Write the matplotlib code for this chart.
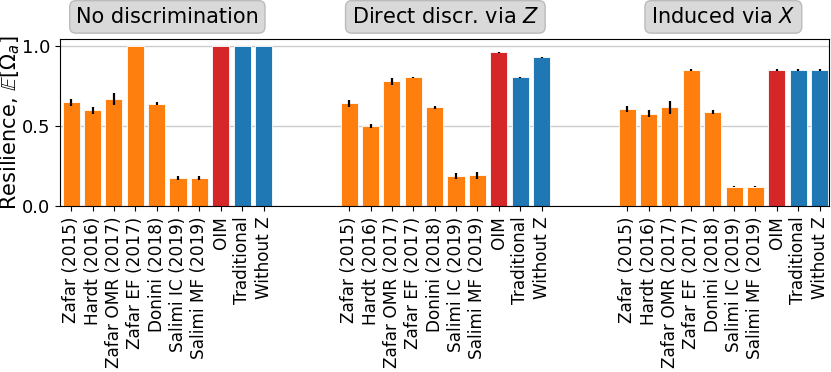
import numpy as np
import matplotlib
matplotlib.use('Agg')
import matplotlib.pyplot as plt

methods = ['Zafar (2015)', 'Hardt (2016)', 'Zafar OMR (2017)', 'Zafar EF (2017)',
           'Donini (2018)', 'Salimi IC (2019)', 'Salimi MF (2019)', 'OIM',
           'Traditional', 'Without Z']
scenarios = ['No discrimination', 'Direct discr. via $Z$', 'Induced via $X$']

# mean resilience per scenario
no_discr = [0.65, 0.60, 0.67, 1.0, 0.64, 0.177, 0.177, 1.0, 1.0, 1.0]
direct = [0.644, 0.50, 0.78, 0.806, 0.619, 0.19, 0.193, 0.9625, 0.806, 0.931]
induced = [0.608, 0.579, 0.619, 0.852, 0.587, 0.123, 0.123, 0.852, 0.852, 0.852]

# error bar half-widths
no_discr_err = [0.023, 0.023, 0.04, 0.0, 0.01, 0.015, 0.012, 0.0, 0.0, 0.0]
direct_err = [0.022, 0.013, 0.022, 0.003, 0.01, 0.018, 0.02, 0.003, 0.003, 0.003]
induced_err = [0.02, 0.023, 0.04, 0.005, 0.013, 0.005, 0.005, 0.005, 0.005, 0.005]

colors = ['#ff7f0e'] * 7 + ['#d62728', '#1f77b4', '#1f77b4']

fig = plt.figure(figsize=(8.31, 3.72), dpi=100)
ax = fig.add_axes([0.0722, 0.4454, 0.9254, 0.4506])

gap = 13
tick_pos = []
tick_lab = []
for g, (vals, errs) in enumerate([(no_discr, no_discr_err), (direct, direct_err),
                                  (induced, induced_err)]):
    x = np.arange(len(methods)) + g * gap
    ax.bar(x, vals, width=0.8, color=colors, edgecolor='white', linewidth=0.6,
           zorder=2)
    ax.errorbar(x, vals, yerr=errs, fmt='none', ecolor='black', elinewidth=1.6,
                capsize=0, zorder=3)
    tick_pos.extend(x)
    tick_lab.extend(methods)
    ax.text(x.mean(), 1.13, scenarios[g], ha='center', va='center', fontsize=15,
            transform=ax.get_xaxis_transform(),
            bbox=dict(boxstyle='round,pad=0.3', facecolor='#d9d9d9',
                      edgecolor='#bbbbbb'))

ax.set_xticks(tick_pos)
ax.set_xticklabels(tick_lab, rotation=90, fontsize=12.2)
ax.tick_params(axis='x', pad=4)
ax.set_xlim(-0.52, 35.44)
ax.set_ylim(0, 1.047)
ax.set_yticks([0.0, 0.5, 1.0])
ax.tick_params(axis='y', labelsize=13)
ax.yaxis.grid(True, color='#cccccc', linewidth=1, zorder=0)
ax.set_axisbelow(True)
ax.set_ylabel(r'Resilience, $\mathbb{E}[\Omega_a]$', fontsize=15)
ax.yaxis.set_label_coords(-0.049, 0.5)

plt.savefig('out.png', dpi=100)
